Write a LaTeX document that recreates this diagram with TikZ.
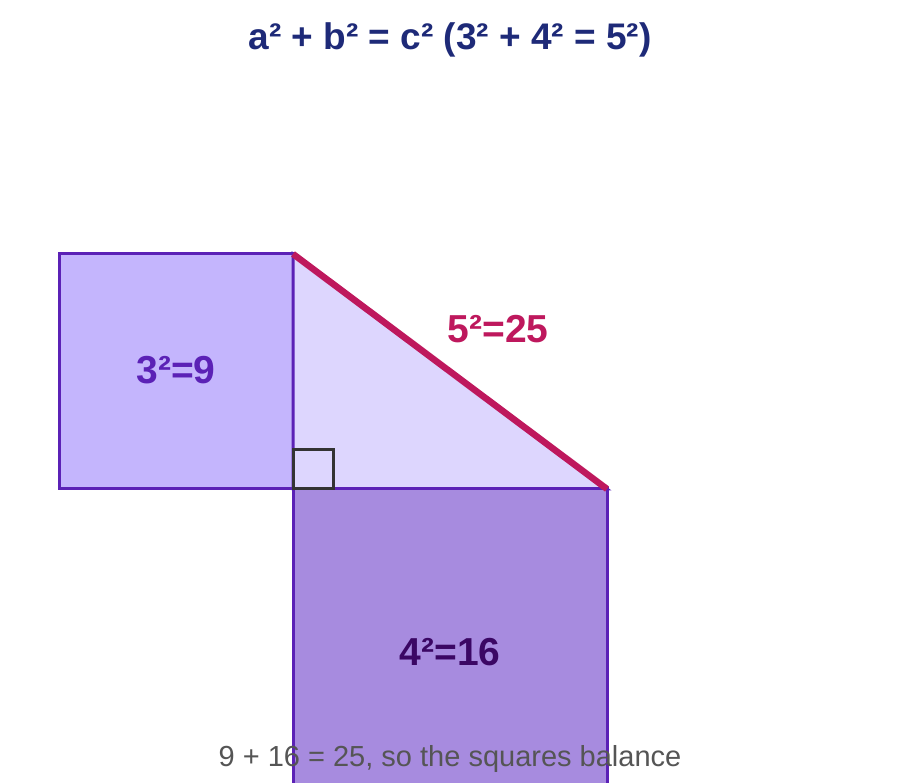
\documentclass[tikz,border=0pt]{standalone}
\usepackage{fontspec}
\setmainfont{Liberation Sans}
\usepackage{xcolor}
\usetikzlibrary{positioning,calc}

\definecolor{sqA}{HTML}{C4B5FD}
\definecolor{sqB}{HTML}{A78BDF}
\definecolor{triFill}{HTML}{DDD6FE}
\definecolor{edgeViolet}{HTML}{5B21B6}
\definecolor{hypPink}{HTML}{BE185D}
\definecolor{titleNavy}{HTML}{1E2A78}
\definecolor{darkViolet}{HTML}{3B0764}
\definecolor{noteGrey}{HTML}{555555}

\begin{document}
\begin{tikzpicture}[x=1pt, y=-1pt,
    square/.style={draw=edgeViolet, line width=3pt},
    leg/.style={draw=edgeViolet, line width=3pt, fill=triFill},
    hyp/.style={draw=hypPink, line width=6.5pt},
    rightmark/.style={draw=black!80, line width=3pt},
    area/.style={font=\bfseries\fontsize{39}{44}\selectfont},
    every node/.style={inner sep=0pt}]
    \useasboundingbox (0,0) rectangle (900,783);
    \clip (0,0) rectangle (900,783);

    % triangle corners
    \coordinate (top) at (293,254);
    \coordinate (corner) at (293,489);
    \coordinate (right) at (607,489);

    % squares on the legs
    \draw[square, fill=sqA] (59,254) rectangle (corner);
    \draw[leg] (top) -- (corner) -- (right) -- cycle;
    \draw[square, fill=sqB] (corner) rectangle ($(right)+(0,314)$);
    \draw[hyp] (top) -- (right);
    \draw[rightmark] (corner) rectangle ++(40,-39);

    % labels
    \node[font=\bfseries\fontsize{37}{42}\selectfont, text=titleNavy] (title) at (450,40) {a² + b² = c² (3² + 4² = 5²)};
    \node[area, text=edgeViolet] (nine) at (176,370) {3²=9};
    \node[area, text=darkViolet] (sixteen) at (450,652) {4²=16};
    \node[area, text=hypPink] (twentyfive) at (498,329) {5²=25};
    \node[font=\fontsize{29}{33}\selectfont, text=noteGrey] (note) at (450,759) {9 + 16 = 25, so the squares balance};
\end{tikzpicture}
\end{document}
